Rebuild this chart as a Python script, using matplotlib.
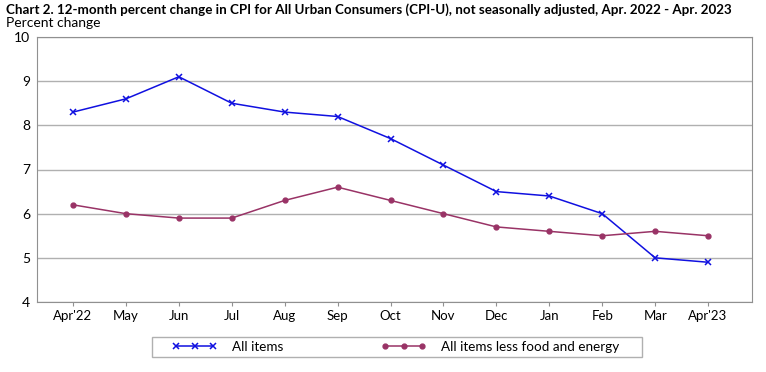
import matplotlib
matplotlib.use("Agg")
import matplotlib.pyplot as plt
from matplotlib.patches import Rectangle

months = ["Apr'22", "May", "Jun", "Jul", "Aug", "Sep", "Oct", "Nov", "Dec", "Jan", "Feb", "Mar", "Apr'23"]
all_items = [8.3, 8.6, 9.1, 8.5, 8.3, 8.2, 7.7, 7.1, 6.5, 6.4, 6.0, 5.0, 4.9]
core = [6.2, 6.0, 5.9, 5.9, 6.3, 6.6, 6.3, 6.0, 5.7, 5.6, 5.5, 5.6, 5.5]

plt.rcParams['font.family'] = ['Lato', 'DejaVu Sans']

fig = plt.figure(figsize=(7.66, 3.72), dpi=100)
ax = fig.add_axes([37/766, 1 - 302/372, (752-37)/766, (302-37)/372])

x = range(len(months))
ax.plot(x, all_items, color="#1010e0", lw=1.1, marker="x", ms=5, mew=1.1, label="All items")
ax.plot(x, core, color="#993366", lw=1.1, marker="o", ms=3.5, label="All items less food and energy")

ax.set_ylim(4, 10)
ax.set_xlim(-0.68, 12.83)
ax.set_yticks(range(4, 11))
ax.set_xticks(list(x))
ax.set_xticklabels(months)
ax.grid(axis="y", color="#b0b0b0", lw=1)
ax.set_axisbelow(True)
for s in ax.spines.values():
    s.set_color("#909090")
ax.tick_params(axis="y", length=0, labelsize=10, pad=5)
ax.tick_params(axis="x", length=3, color="#909090", labelsize=9.5, pad=3)

fig.text(6/766, 1 - 10/372, "Chart 2. 12-month percent change in CPI for All Urban Consumers (CPI-U), not seasonally adjusted, Apr. 2022 - Apr. 2023",
         fontsize=9.65, fontweight="bold", va="center", ha="left")
fig.text(6/766, 1 - 23/372, "Percent change", fontsize=10, va="center", ha="left")

# legend frame drawn separately so the padding can match
fig.patches.append(Rectangle((152/766, 1 - 357/372), (642-152)/766, 20/372, transform=fig.transFigure,
                             fill=False, edgecolor="#b0b0b0", lw=1))
leg = fig.legend(loc="center left", bbox_to_anchor=(167/766, 1 - 347/372), ncol=2, frameon=False,
                 fontsize=9.7, columnspacing=7.3, handlelength=3.3, handletextpad=1.1,
                 numpoints=3, borderaxespad=0)

fig.savefig("out.png", dpi=100)
